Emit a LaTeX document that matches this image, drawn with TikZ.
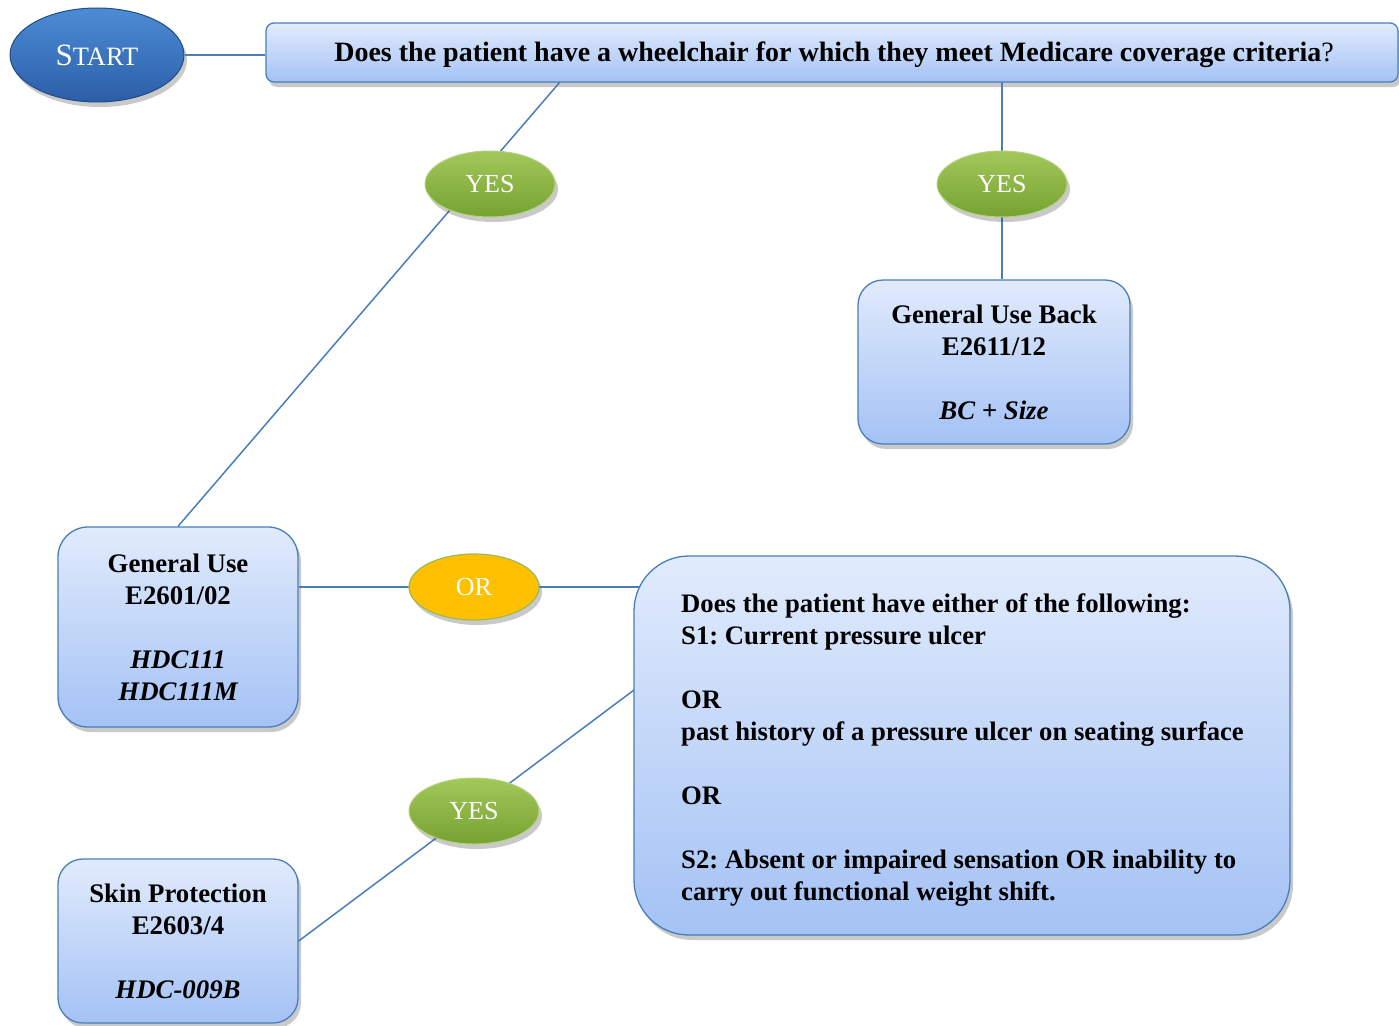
\documentclass[tikz,border=0pt]{standalone}
\usepackage{fontspec}
\setmainfont{Liberation Serif}
\frenchspacing
\usetikzlibrary{shapes.geometric,shadows,calc}
\definecolor{boxtop}{HTML}{E1EBFC}
\definecolor{boxbot}{HTML}{A4C2F5}
\definecolor{boxline}{HTML}{4A7EBB}
\definecolor{conn}{HTML}{4A7EBB}
\definecolor{grtop}{HTML}{A2C85A}
\definecolor{grbot}{HTML}{76A232}
\definecolor{grline}{HTML}{B5D17F}
\definecolor{bltop}{HTML}{4C8CD6}
\definecolor{blbot}{HTML}{2B5EA7}
\definecolor{gold}{HTML}{FFC000}
\definecolor{orline}{HTML}{9BBB59}
\tikzset{
  myshadow/.style={drop shadow={shadow xshift=3pt,shadow yshift=-5pt,opacity=0.3,fill=black!70}},
  boxnode/.style={draw=boxline,line width=1.3pt,top color=boxtop,bottom color=boxbot,
    myshadow,inner sep=0pt,align=center,
    font=\bfseries\fontsize{26.8}{32}\selectfont},
  pill/.style={ellipse,inner sep=0pt,minimum width=130pt,minimum height=66pt,
    text=white,font=\fontsize{26}{26}\selectfont,myshadow},
  yesnode/.style={pill,draw=grline,line width=1pt,top color=grtop,bottom color=grbot},
  ornode/.style={pill,draw=orline,line width=1.2pt,fill=gold},
  startnode/.style={ellipse,inner sep=0pt,minimum width=174pt,minimum height=94pt,
    draw=blbot!80!black,line width=1pt,top color=bltop,bottom color=blbot,text=white,myshadow},
  conline/.style={draw=conn,line width=1.5pt},
  bigtext/.style={inner sep=0pt,align=left,font=\bfseries\fontsize{26.7}{32}\selectfont},
  qtext/.style={inner sep=0pt,font=\bfseries\fontsize{28}{32}\selectfont}
}
\begin{document}
\begin{tikzpicture}[x=1pt,y=-1pt]
\useasboundingbox (0,0) rectangle (1399,1025);
% boxes
\node[boxnode,rounded corners=8pt,minimum width=1132pt,minimum height=59pt] (q) at (832,52.5) {};
\node[qtext] (qt) at (834,55)
  {Does the patient have a wheelchair for which they meet Medicare coverage criteria\mdseries?};
\node[boxnode,rounded corners=25pt,minimum width=272pt,minimum height=164pt] (gub) at (994,362)
  {General Use Back\\E2611/12\\[32pt]\itshape BC + Size};
\node[boxnode,rounded corners=30pt,minimum width=240pt,minimum height=200pt] (gu) at (178,627)
  {General Use\\E2601/02\\[32pt]\itshape HDC111\\\itshape HDC111M};
\node[boxnode,rounded corners=25pt,minimum width=240pt,minimum height=164pt] (sk) at (178,941)
  {Skin Protection\\E2603/4\\[32pt]\itshape HDC-009B};
\node[boxnode,rounded corners=55pt,minimum width=656pt,minimum height=379pt] (big) at (962,745.5) {};
\node[bigtext,anchor=west] (bigt) at (681,750)
  {Does the patient have either of the following:\\
   S1: Current pressure ulcer\\[32pt]
   OR\\
   past history of a pressure ulcer on seating surface\\[32pt]
   OR\\[32pt]
   S2: Absent or impaired sensation OR inability to\\
   carry out functional weight shift.};
% start
\node[startnode] (start) at (97,55)
  {\fontsize{31}{31}\selectfont S\fontsize{26.5}{26.5}\selectfont TART};
% connector anchor points
\coordinate (qa) at (560,82);
\coordinate (qb) at (1002,82);
\coordinate (bigl) at (634,690);
\coordinate (bigo) at (640,587);
% connectors
\draw[conline] (start.east) -- (start.east -| q.west);
\draw[conline] (qa) -- (gu.north);
\draw[conline] (qb) -- (qb |- gub.north);
\draw[conline] (gu.east |- bigo) -- (bigo);
\draw[conline] (sk.east) -- (bigl);
% pills
\node[yesnode] (yes1) at (490,184) {YES};
\node[yesnode] (yes2) at (1002,184) {YES};
\node[ornode] (or1) at (474,587) {OR};
\node[yesnode] (yes3) at (474,811) {YES};
\end{tikzpicture}
\end{document}
